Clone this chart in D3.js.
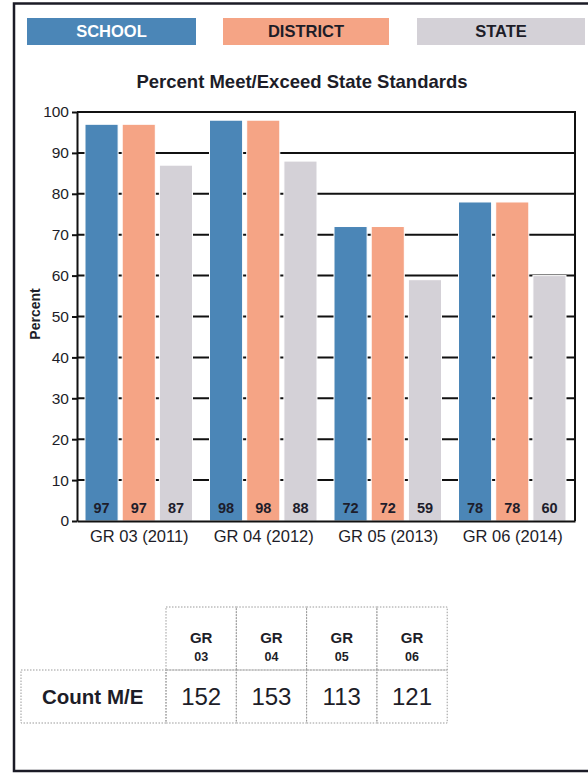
<!DOCTYPE html>
<html>
<head>
<meta charset="utf-8">
<script src="https://cdn.jsdelivr.net/npm/d3@7/dist/d3.min.js"></script>
<style>
  html, body { margin: 0; padding: 0; background: #fff; }
  svg { display: block; font-family: "Liberation Sans", Arial, sans-serif; }
</style>
</head>
<body>
<svg id="chart" width="588" height="773"></svg>
<script>
// Grade/year groups along the x axis
const categories = ["GR 03 (2011)", "GR 04 (2012)", "GR 05 (2013)", "GR 06 (2014)"];
// Series names (legend order)
const seriesNames = ["SCHOOL", "DISTRICT", "STATE"];
// Percent meeting/exceeding standards, one value per category
const schoolValues = [97, 98, 72, 78];
const districtValues = [97, 98, 72, 78];
const stateValues = [87, 88, 59, 60];
// Y axis ticks
const yTicks = [0, 10, 20, 30, 40, 50, 60, 70, 80, 90, 100];
// Count table
const tableHeaders = [["GR", "03"], ["GR", "04"], ["GR", "05"], ["GR", "06"]];
const tableRowLabel = "Count M/E";
const tableCounts = [152, 153, 113, 121];

const colors = { SCHOOL: "#4b86b7", DISTRICT: "#f5a485", STATE: "#d4d1d7" };
const legendText = { SCHOOL: "#ffffff", DISTRICT: "#1d1d28", STATE: "#1d1d28" };

const seriesValues = { SCHOOL: schoolValues, DISTRICT: districtValues, STATE: stateValues };
const data = categories.map((c, i) => ({
  category: c,
  values: seriesNames.map(s => ({ series: s, value: seriesValues[s][i] }))
}));

const svg = d3.select("#chart");

// Outer frame
svg.append("rect")
  .attr("x", 14).attr("y", 3.5)
  .attr("width", 600).attr("height", 767.5)
  .attr("fill", "none").attr("stroke", "#1b1b26").attr("stroke-width", 2.5);

// Legend boxes
const legendX = d3.scaleOrdinal().domain(seriesNames).range([27, 223, 417]);
const legendW = { SCHOOL: 169, DISTRICT: 166, STATE: 168 };
const legend = svg.append("g").selectAll("g").data(seriesNames).join("g")
  .attr("transform", d => `translate(${legendX(d)},18)`);
legend.append("rect")
  .attr("width", d => legendW[d]).attr("height", 27)
  .attr("fill", d => colors[d]);
legend.append("text")
  .attr("x", d => legendW[d] / 2).attr("y", 19)
  .attr("text-anchor", "middle")
  .attr("font-size", 16.5).attr("font-weight", "bold")
  .attr("fill", d => legendText[d])
  .text(d => d);

// Title
svg.append("text")
  .attr("x", 302).attr("y", 88)
  .attr("text-anchor", "middle")
  .attr("font-size", 18.5).attr("font-weight", "bold")
  .attr("fill", "#1d1d28")
  .text("Percent Meet/Exceed State Standards");

// Plot scales
const plot = { left: 77, right: 575, top: 112, bottom: 521 };
const y = d3.scaleLinear().domain([0, 100]).range([plot.bottom, plot.top]);
const x0 = d3.scaleBand().domain(categories).range([plot.left, plot.right]).padding(0);
const x1 = d3.scaleBand().domain(seriesNames).range([8, x0.bandwidth() - 9]).paddingInner(0.11);

// Gridlines
svg.append("g").selectAll("line").data(yTicks.filter(t => t > 0 && t < 100)).join("line")
  .attr("x1", plot.left).attr("x2", plot.right)
  .attr("y1", d => y(d)).attr("y2", d => y(d))
  .attr("stroke", "#111").attr("stroke-width", 2);

// Bars
const groups = svg.append("g").selectAll("g").data(data).join("g")
  .attr("transform", d => `translate(${x0(d.category)},0)`);
groups.selectAll("rect").data(d => d.values).join("rect")
  .attr("x", d => x1(d.series))
  .attr("y", d => y(d.value))
  .attr("width", x1.bandwidth())
  .attr("height", d => y(0) - y(d.value))
  .attr("fill", d => colors[d.series])
  .attr("stroke", "#fff").attr("stroke-width", 1);
groups.selectAll("text").data(d => d.values).join("text")
  .attr("x", d => x1(d.series) + x1.bandwidth() / 2)
  .attr("y", plot.bottom - 8)
  .attr("text-anchor", "middle")
  .attr("font-size", 14.5).attr("font-weight", "bold")
  .attr("fill", "#1d1d2b")
  .text(d => d.value);

// Plot border: top and right
svg.append("path")
  .attr("d", `M${plot.left},${plot.top}H${plot.right}V${plot.bottom}`)
  .attr("fill", "none").attr("stroke", "#111").attr("stroke-width", 2);

// Y axis
const yAxis = svg.append("g")
  .attr("transform", `translate(${plot.left},0)`)
  .call(d3.axisLeft(y).tickValues(yTicks).tickSize(5).tickPadding(3).tickSizeOuter(0));
yAxis.select(".domain").attr("stroke", "#111").attr("stroke-width", 2);
yAxis.selectAll(".tick line").attr("stroke", "#111").attr("stroke-width", 2);
yAxis.selectAll(".tick text")
  .attr("font-size", 15.5).attr("fill", "#1d1d28")
  .attr("font-family", "Liberation Sans, Arial, sans-serif");

// X axis
const xAxis = svg.append("g")
  .attr("transform", `translate(0,${plot.bottom})`)
  .call(d3.axisBottom(x0).tickSize(0).tickPadding(9));
xAxis.select(".domain").attr("stroke", "#111").attr("stroke-width", 2);
xAxis.selectAll(".tick text")
  .attr("font-size", 16.5).attr("fill", "#1d1d28")
  .attr("font-family", "Liberation Sans, Arial, sans-serif");

// Y axis title
svg.append("text")
  .attr("transform", "translate(40,314) rotate(-90)")
  .attr("text-anchor", "middle")
  .attr("font-size", 14).attr("font-weight", "bold")
  .attr("fill", "#1d1d28")
  .text("Percent");

// Count table
const tbl = { labelLeft: 21, colLeft: 166, colW: 70.3, headTop: 607, rowTop: 670, rowBottom: 723 };
const tx = d3.scaleBand().domain(d3.range(tableCounts.length))
  .range([tbl.colLeft, tbl.colLeft + tbl.colW * tableCounts.length]);
const cellStroke = { color: "#9a9a9a", dash: "1.5,1.5" };
const table = svg.append("g");

const headCells = table.selectAll("g.head").data(tableHeaders).join("g").attr("class", "head");
headCells.append("rect")
  .attr("x", (d, i) => tx(i)).attr("y", tbl.headTop)
  .attr("width", tx.bandwidth()).attr("height", tbl.rowTop - tbl.headTop)
  .attr("stroke", cellStroke.color).attr("stroke-width", 1)
  .attr("stroke-dasharray", cellStroke.dash).attr("fill", "none");
headCells.append("text")
  .attr("x", (d, i) => tx(i) + tx.bandwidth() / 2).attr("y", 643)
  .attr("text-anchor", "middle").attr("font-size", 15).attr("font-weight", "bold")
  .attr("fill", "#1d1d28").text(d => d[0]);
headCells.append("text")
  .attr("x", (d, i) => tx(i) + tx.bandwidth() / 2).attr("y", 661)
  .attr("text-anchor", "middle").attr("font-size", 12.5).attr("font-weight", "bold")
  .attr("fill", "#1d1d28").text(d => d[1]);

table.append("rect")
  .attr("x", tbl.labelLeft).attr("y", tbl.rowTop)
  .attr("width", tbl.colLeft - tbl.labelLeft).attr("height", tbl.rowBottom - tbl.rowTop)
  .attr("stroke", cellStroke.color).attr("stroke-width", 1)
  .attr("stroke-dasharray", cellStroke.dash).attr("fill", "none");
table.append("text")
  .attr("x", 42).attr("y", 704)
  .attr("font-size", 20.5).attr("font-weight", "bold")
  .attr("fill", "#1d1d28").text(tableRowLabel);

const countCells = table.selectAll("g.count").data(tableCounts).join("g").attr("class", "count");
countCells.append("rect")
  .attr("x", (d, i) => tx(i)).attr("y", tbl.rowTop)
  .attr("width", tx.bandwidth()).attr("height", tbl.rowBottom - tbl.rowTop)
  .attr("stroke", cellStroke.color).attr("stroke-width", 1)
  .attr("stroke-dasharray", cellStroke.dash).attr("fill", "none");
countCells.append("text")
  .attr("x", (d, i) => tx(i) + tx.bandwidth() / 2).attr("y", 705)
  .attr("text-anchor", "middle").attr("font-size", 24)
  .attr("fill", "#1d1d28").text(d => d);
</script>
</body>
</html>
